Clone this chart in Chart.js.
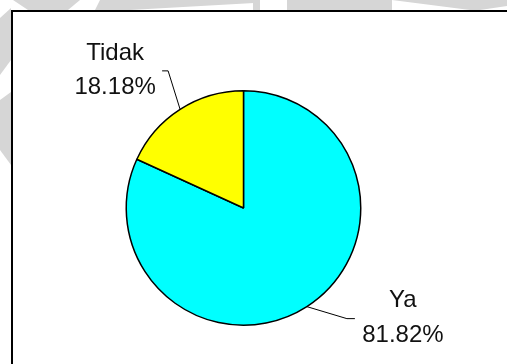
<!DOCTYPE html>
<html>
<head>
<meta charset="utf-8">
<script src="https://cdn.jsdelivr.net/npm/chart.js@4.4.0/dist/chart.umd.min.js"></script>
<style>
  html, body { margin: 0; padding: 0; background: #fff; }
  #wrap { width: 507px; height: 364px; }
</style>
</head>
<body>
<div id="wrap"><canvas id="myChart" width="507" height="364"></canvas></div>
<script>
// jawaban responden
var labels = ['Ya', 'Tidak'];
var values = [81.82, 18.18];
var colors = ['#00FFFF', '#FFFF00'];

// leader line + label offsets, relative to the point on the slice edge
var callouts = [
  { elbow: [40, 12], end: [48, 12], text: [96, 0.6], gap: 34.5 },
  { elbow: [-12, -38.5], end: [-18, -38.5], text: [-65, -49.6], gap: 34 }
];

var backdrop = {
  id: 'backdrop',
  beforeDraw: function(chart) {
    var c = chart.ctx;
    c.save();
    c.fillStyle = '#d6d6d6';
    var shapes = [
      [[13,0],[80,0],[68,10],[28,10]],
      [[100,0],[254,0],[254,3],[130,10],[95,10]],
      [[253,0],[260,0],[260,10],[253,10]],
      [[287,0],[507,0],[507,6],[480,10],[470,10],[392,0],[392,10],[287,10]],
      [[0,18],[11,8],[11,60],[0,75]],
      [[0,100],[11,92],[11,165],[0,150]]
    ];
    shapes.forEach(function(s) {
      c.beginPath();
      c.moveTo(s[0][0], s[0][1]);
      for (var i = 1; i < s.length; i++) c.lineTo(s[i][0], s[i][1]);
      c.closePath();
      c.fill();
    });
    // frame
    c.fillStyle = '#fff';
    c.fillRect(12, 11, 520, 380);
    c.strokeStyle = '#000';
    c.lineWidth = 2;
    c.strokeRect(12, 11, 520, 380);
    c.restore();
  }
};

var callout = {
  id: 'callout',
  afterDraw: function(chart) {
    var c = chart.ctx;
    var arcs = chart.getDatasetMeta(0).data;
    c.save();
    c.strokeStyle = '#000';
    c.lineWidth = 1;
    c.fillStyle = '#111';
    c.font = '24px "Liberation Sans", Arial, sans-serif';
    c.textAlign = 'center';
    c.textBaseline = 'alphabetic';
    arcs.forEach(function(arc, i) {
      var p = arc.getProps(['x', 'y', 'startAngle', 'endAngle', 'outerRadius'], true);
      var mid = (p.startAngle + p.endAngle) / 2;
      var ax = p.x + Math.cos(mid) * p.outerRadius;
      var ay = p.y + Math.sin(mid) * p.outerRadius;
      var o = callouts[i];
      c.beginPath();
      c.moveTo(ax, ay);
      c.lineTo(ax + o.elbow[0], ay + o.elbow[1]);
      c.lineTo(ax + o.end[0], ay + o.end[1]);
      c.stroke();
      var tx = ax + o.text[0], ty = ay + o.text[1];
      c.fillText(labels[i], tx, ty);
      c.fillText(values[i].toFixed(2) + '%', tx, ty + o.gap);
    });
    c.restore();
  }
};

var ctx = document.getElementById('myChart').getContext('2d');
var chart = new Chart(ctx, {
  type: 'pie',
  data: {
    labels: labels,
    datasets: [{
      data: values,
      backgroundColor: colors,
      borderColor: '#000',
      borderWidth: 1.5
    }]
  },
  options: {
    responsive: false,
    animation: false,
    layout: { padding: { left: 100, right: 120, top: 90, bottom: 38 } },
    plugins: {
      legend: { display: false },
      tooltip: { enabled: false }
    }
  },
  plugins: [backdrop, callout]
});
</script>
</body>
</html>
